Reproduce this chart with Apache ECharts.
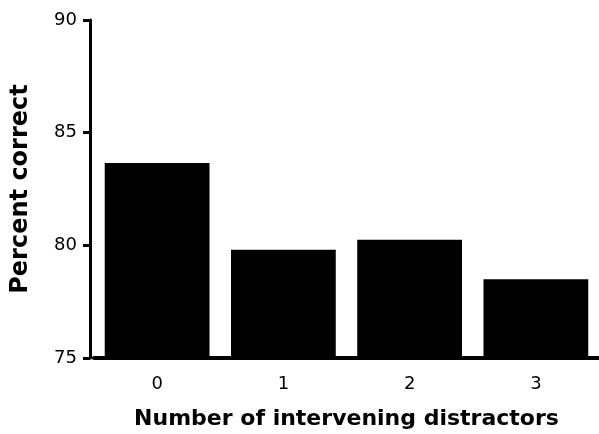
<!DOCTYPE html>
<html>
<head>
<meta charset="utf-8">
<script src="https://cdn.jsdelivr.net/npm/echarts@6/dist/echarts.min.js"></script>
<style>html,body{margin:0;padding:0;background:#fff;}#c{width:599px;height:434px;}</style>
</head>
<body>
<div id="c"></div>
<script>
var categories = ['0', '1', '2', '3'];
var percentCorrect = [83.65, 79.8, 80.25, 78.5];
var yTicks = [75, 80, 85, 90];

var chart = echarts.init(document.getElementById('c'), null, {renderer: 'canvas'});
chart.setOption({
  animation: false,
  backgroundColor: '#fff',
  grid: {left: 94, right: 0, top: 20, bottom: 76, containLabel: false, outerBoundsMode: 'none'},
  xAxis: {
    type: 'category',
    data: categories,
    name: 'Number of intervening distractors',
    nameLocation: 'middle',
    nameGap: 50,
    nameTextStyle: {fontFamily: 'DejaVu Sans', fontWeight: 'bold', fontSize: 22, color: '#000'},
    axisLine: {lineStyle: {color: '#000', width: 4}},
    axisTick: {alignWithLabel: true, length: 7, lineStyle: {color: '#000', width: 3}},
    axisLabel: {fontFamily: 'DejaVu Sans', fontSize: 18, color: '#000', margin: 17}
  },
  yAxis: {
    type: 'value',
    min: yTicks[0],
    max: yTicks[yTicks.length - 1],
    interval: 5,
    offset: 4,
    name: 'Percent correct',
    nameLocation: 'middle',
    nameGap: 57,
    nameTextStyle: {fontFamily: 'DejaVu Sans', fontWeight: 'bold', fontSize: 24, color: '#000'},
    splitLine: {show: false},
    axisLine: {show: true, lineStyle: {color: '#000', width: 3}},
    axisTick: {show: true, length: 7, lineStyle: {color: '#000', width: 3}},
    axisLabel: {fontFamily: 'DejaVu Sans', fontSize: 18, color: '#000', margin: 13}
  },
  series: [{
    type: 'bar',
    data: percentCorrect,
    barWidth: '83%',
    itemStyle: {color: '#000'}
  }]
});
</script>
</body>
</html>
